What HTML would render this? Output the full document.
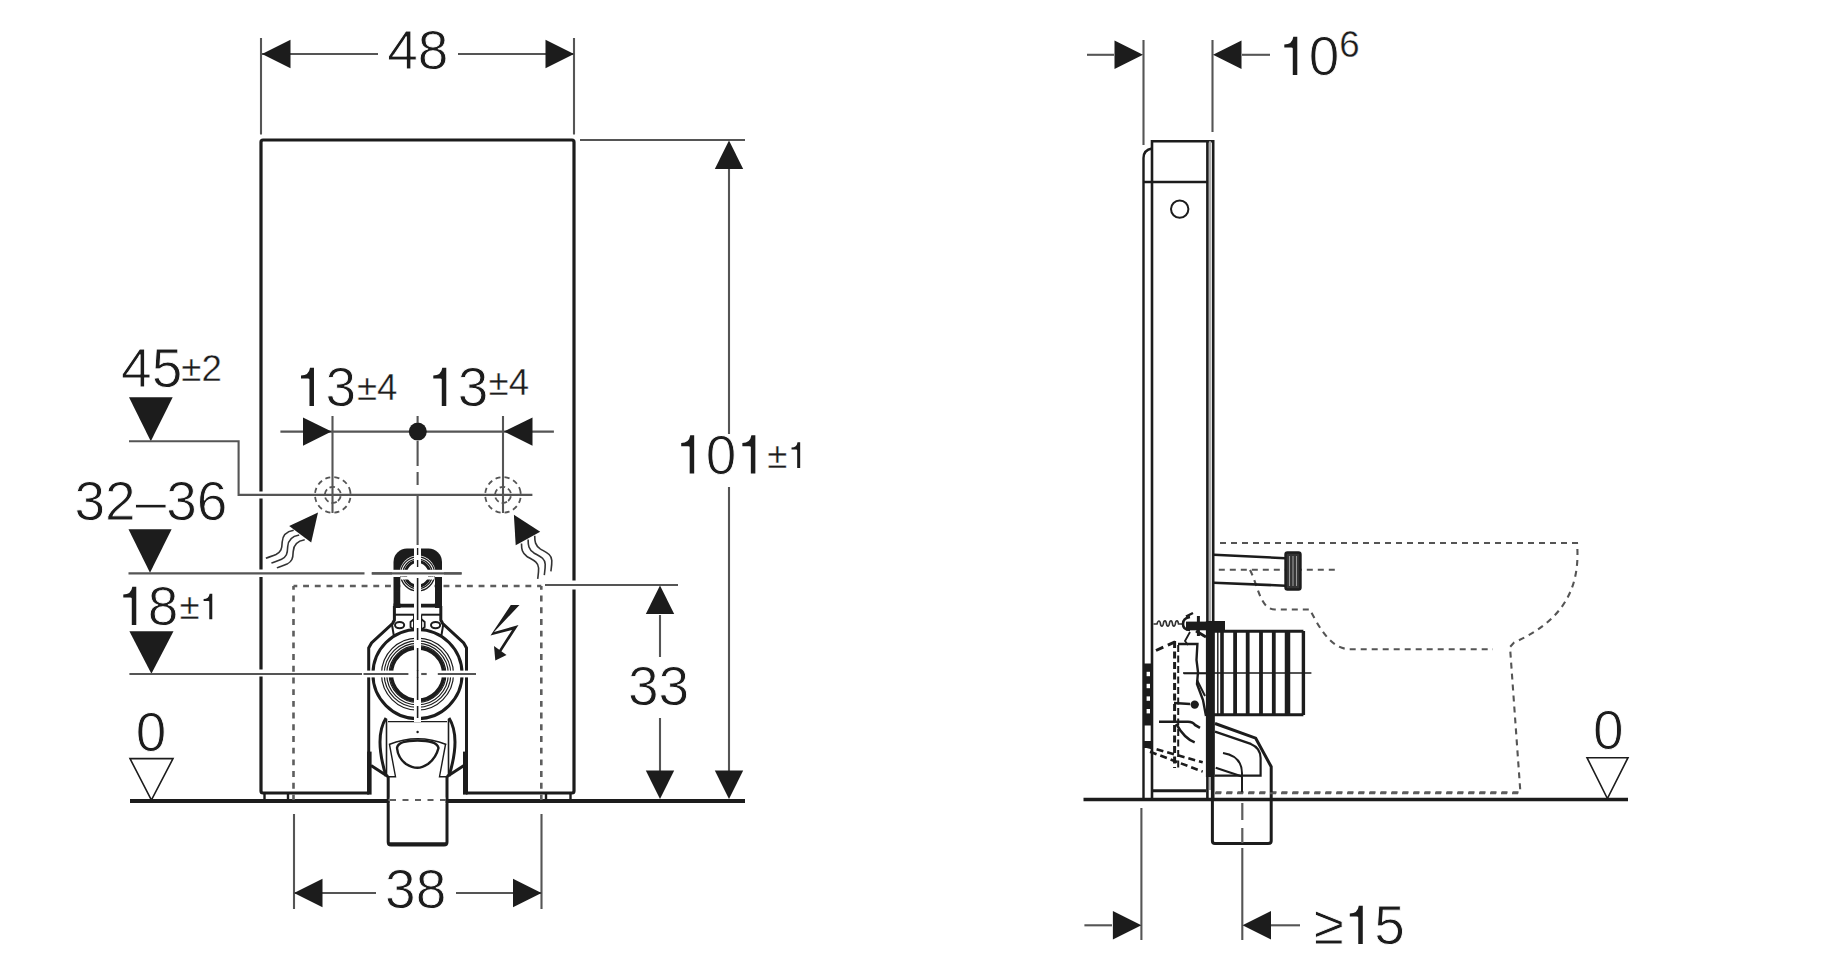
<!DOCTYPE html>
<html><head><meta charset="utf-8"><style>
html,body{margin:0;padding:0;background:#fff;}
svg{display:block;}
text{font-family:"Liberation Sans",sans-serif;fill:#1c1c1c;stroke:#fff;stroke-width:0.9px;}
</style></head><body>
<svg width="1828" height="980" viewBox="0 0 1828 980">
<rect width="1828" height="980" fill="#fff"/>
<line x1="261" y1="38" x2="261" y2="134.5" stroke="#555" stroke-width="2.1" />
<line x1="574" y1="38" x2="574" y2="134.5" stroke="#555" stroke-width="2.1" />
<line x1="262" y1="54" x2="378" y2="54" stroke="#555" stroke-width="2.1" />
<line x1="458" y1="54" x2="574" y2="54" stroke="#555" stroke-width="2.1" />
<path d="M262,54 L290.5,39.8 L290.5,68.2 Z" fill="#1c1c1c"/>
<path d="M574,54 L545.5,39.8 L545.5,68.2 Z" fill="#1c1c1c"/>
<text x="387.2" y="69" font-size="55" text-anchor="start" >48</text>
<path d="M369,793 L263,793 Q261,793 261,791 L261,142 Q261,140 263,140 L572,140 Q574,140 574,142 L574,791 Q574,793 572,793 L466,793" stroke="#1c1c1c" stroke-width="3.2" fill="none" />
<rect x="258" y="491.5" width="6" height="7.0" fill="#fff"/>
<rect x="258" y="569.5" width="6" height="7.5" fill="#fff"/>
<rect x="258" y="669.5" width="6" height="7.0" fill="#fff"/>
<rect x="571" y="580.5" width="6" height="9" fill="#fff"/>
<line x1="580" y1="140" x2="745" y2="140" stroke="#555" stroke-width="2.1" />
<line x1="729" y1="169" x2="729" y2="434" stroke="#555" stroke-width="2.1" />
<line x1="729" y1="487" x2="729" y2="772" stroke="#555" stroke-width="2.1" />
<path d="M729,140.5 L714.8,169.0 L743.2,169.0 Z" fill="#1c1c1c"/>
<path d="M729,799 L714.8,770.5 L743.2,770.5 Z" fill="#1c1c1c"/>
<path d="M694.19,435.27 L694.19,473.60 L689.68,473.60 L689.68,447.09 Q689.68,446.16 688.03,446.16 L681.21,446.16 L681.21,443.08 Q689.13,443.08 690.23,435.27 Z" fill="#1c1c1c"/>
<text x="705.68" y="473.6" font-size="55" text-anchor="start" >0</text>
<path d="M755.35,435.27 L755.35,473.60 L750.84,473.60 L750.84,447.09 Q750.84,446.16 749.19,446.16 L742.37,446.16 L742.37,443.08 Q750.29,443.08 751.39,435.27 Z" fill="#1c1c1c"/>
<text x="767.3" y="467.9" font-size="36.7" text-anchor="start" style="stroke-width:0.4px" >±</text>
<path d="M800.18,442.32 L800.18,467.90 L797.17,467.90 L797.17,450.21 Q797.17,449.59 796.07,449.59 L791.52,449.59 L791.52,447.53 Q796.81,447.53 797.54,442.32 Z" fill="#1c1c1c"/>
<line x1="130" y1="801" x2="745" y2="801" stroke="#1c1c1c" stroke-width="4.2" />
<line x1="545" y1="585" x2="678" y2="585" stroke="#555" stroke-width="2.1" />
<line x1="660" y1="615" x2="660" y2="657" stroke="#555" stroke-width="2.1" />
<line x1="660" y1="718" x2="660" y2="772" stroke="#555" stroke-width="2.1" />
<path d="M660,585.5 L645.8,614.0 L674.2,614.0 Z" fill="#1c1c1c"/>
<path d="M660,799 L645.8,770.5 L674.2,770.5 Z" fill="#1c1c1c"/>
<text x="628" y="705.4" font-size="55" text-anchor="start" >33</text>
<line x1="294" y1="814" x2="294" y2="909" stroke="#555" stroke-width="2.1" />
<line x1="541.5" y1="814" x2="541.5" y2="909" stroke="#555" stroke-width="2.1" />
<line x1="294" y1="893" x2="376" y2="893" stroke="#555" stroke-width="2.1" />
<line x1="456" y1="893" x2="541.5" y2="893" stroke="#555" stroke-width="2.1" />
<path d="M294,893 L322.5,878.8 L322.5,907.2 Z" fill="#1c1c1c"/>
<path d="M541.5,893 L513.0,878.8 L513.0,907.2 Z" fill="#1c1c1c"/>
<text x="385.1" y="908.2" font-size="55" text-anchor="start" >38</text>
<line x1="293.5" y1="586" x2="541.3" y2="586" stroke="#5e5e5e" stroke-width="2.6" stroke-dasharray="5.9,5.8" stroke-dashoffset="2.1"/>
<line x1="293.5" y1="586" x2="293.5" y2="800" stroke="#5e5e5e" stroke-width="2.6" stroke-dasharray="5.9,5.8" stroke-dashoffset="2.1"/>
<line x1="541.3" y1="586" x2="541.3" y2="800" stroke="#5e5e5e" stroke-width="2.6" stroke-dasharray="5.9,5.8" stroke-dashoffset="2.1"/>
<path d="M129,397.3 L172.7,397.3 L150.8,441.2 Z" fill="#1c1c1c"/>
<path d="M129,441.2 L238.6,441.2 L238.6,494.9 L532.4,494.9" stroke="#555" stroke-width="2.1" fill="none" />
<path d="M128.5,529.3 L171.6,529.3 L150,572.8 Z" fill="#1c1c1c"/>
<line x1="128.5" y1="573.4" x2="364.5" y2="573.4" stroke="#555" stroke-width="2.1" />
<line x1="371.8" y1="573.4" x2="461.6" y2="573.4" stroke="#555" stroke-width="2.1" />
<path d="M129.4,631.2 L173.5,631.2 L151.4,673.8 Z" fill="#1c1c1c"/>
<line x1="129.4" y1="674" x2="362" y2="674" stroke="#555" stroke-width="2.1" />
<path d="M130,758.6 L173,758.6 L151.4,800 Z" stroke="#1c1c1c" stroke-width="1.6" fill="none" />
<path d="M1587,757.7 L1628,757.7 L1607.4,798.5 Z" stroke="#1c1c1c" stroke-width="1.6" fill="none" />
<text x="135.7" y="750.7" font-size="55" text-anchor="start" >0</text>
<text x="121.1" y="387" font-size="55" text-anchor="start" >45</text>
<text x="181.3" y="381" font-size="36.7" text-anchor="start" style="stroke-width:0.4px" >±2</text>
<text x="74.4" y="519.5" font-size="55" text-anchor="start" >32–36</text>
<path d="M136.28,586.66 L136.28,625.00 L131.78,625.00 L131.78,598.49 Q131.78,597.55 130.12,597.55 L123.30,597.55 L123.30,594.47 Q131.22,594.47 132.33,586.66 Z" fill="#1c1c1c"/>
<text x="147.78" y="625" font-size="55" text-anchor="start" >8</text>
<text x="179.4" y="619.3" font-size="36.7" text-anchor="start" style="stroke-width:0.4px" >±</text>
<path d="M212.28,593.72 L212.28,619.30 L209.27,619.30 L209.27,601.61 Q209.27,600.99 208.17,600.99 L203.62,600.99 L203.62,598.93 Q208.91,598.93 209.64,593.72 Z" fill="#1c1c1c"/>
<line x1="280.4" y1="431.6" x2="553.9" y2="431.6" stroke="#555" stroke-width="2.1" />
<path d="M331.5,431.6 L303.0,417.40000000000003 L303.0,445.8 Z" fill="#1c1c1c"/>
<path d="M504,431.6 L532.5,417.40000000000003 L532.5,445.8 Z" fill="#1c1c1c"/>
<line x1="332.5" y1="416" x2="332.5" y2="513" stroke="#555" stroke-width="2.1" />
<line x1="503" y1="416" x2="503" y2="513" stroke="#555" stroke-width="2.1" />
<circle cx="417.8" cy="431.6" r="9" fill="#1c1c1c"/>
<path d="M313.98,367.67 L313.98,406.00 L309.47,406.00 L309.47,379.49 Q309.47,378.56 307.82,378.56 L301.00,378.56 L301.00,375.48 Q308.92,375.48 310.02,367.67 Z" fill="#1c1c1c"/>
<text x="325.48" y="406" font-size="55" text-anchor="start" >3</text>
<text x="356.9" y="400" font-size="36.7" text-anchor="start" style="stroke-width:0.4px" >±4</text>
<path d="M446.28,367.67 L446.28,406.00 L441.77,406.00 L441.77,379.49 Q441.77,378.56 440.12,378.56 L433.30,378.56 L433.30,375.48 Q441.22,375.48 442.32,367.67 Z" fill="#1c1c1c"/>
<text x="457.78" y="406" font-size="55" text-anchor="start" >3</text>
<text x="488.5" y="394.9" font-size="36.7" text-anchor="start" style="stroke-width:0.4px" >±4</text>
<line x1="417.6" y1="416" x2="417.6" y2="423" stroke="#555" stroke-width="2.1" />
<line x1="417.6" y1="441" x2="417.6" y2="466" stroke="#555" stroke-width="2.1" />
<line x1="417.6" y1="472" x2="417.6" y2="485" stroke="#555" stroke-width="2.1" />
<line x1="417.6" y1="495" x2="417.6" y2="545" stroke="#555" stroke-width="2.1" />
<circle cx="332.8" cy="494.9" r="17.8" fill="none" stroke="#555" stroke-width="1.8" stroke-dasharray="5.2,3.9" transform="rotate(-20 332.8 494.9)"/>
<circle cx="332.8" cy="494.9" r="8" fill="none" stroke="#555" stroke-width="1.8" stroke-dasharray="5.5,3.1" transform="rotate(60 332.8 494.9)"/>
<circle cx="503" cy="494.9" r="17.8" fill="none" stroke="#555" stroke-width="1.8" stroke-dasharray="5.2,3.9" transform="rotate(-20 503 494.9)"/>
<circle cx="503" cy="494.9" r="8" fill="none" stroke="#555" stroke-width="1.8" stroke-dasharray="5.5,3.1" transform="rotate(60 503 494.9)"/>
<path d="M318,512.4 L289.2,525.9 L311.2,542.4 Z" fill="#1c1c1c"/>
<path d="M293.7,530.2 C286.0,531.5 282.5,535.0 282.2,542.0 C282.0,549.0 281.0,552.0 276.0,554.5 C272.0,556.3 268.5,557.0 265.9,558.3" stroke="#333" stroke-width="1.6" fill="none" />
<path d="M299.2,535.0 C291.5,536.3 288.0,539.8 287.7,546.8 C287.5,553.8 286.5,556.8 281.5,559.3 C277.5,561.0999999999999 274.0,561.8 271.4,563.0999999999999" stroke="#333" stroke-width="1.6" fill="none" />
<path d="M304.7,539.8000000000001 C297.0,541.1 293.5,544.6 293.2,551.6 C293.0,558.6 292.0,561.6 287.0,564.1 C283.0,565.9 279.5,566.6 276.9,567.9" stroke="#333" stroke-width="1.6" fill="none" />
<path d="M513.9,514.7 L540.2,531.8 L515.7,545.3 Z" fill="#1c1c1c"/>
<path d="M521.5,543.4 C521.5,549.0 522.0,553.0 527.0,556.5 C533.0,560.0 538.5,562.0 538.6,568.0 C538.7,573.0 538.0,576.0 537.7,578.9" stroke="#333" stroke-width="1.6" fill="none" />
<path d="M528.1,539.6 C528.1,545.2 528.6,549.2 533.6,552.7 C539.6,556.2 545.1,558.2 545.2,564.2 C545.3000000000001,569.2 544.6,572.2 544.3000000000001,575.1" stroke="#333" stroke-width="1.6" fill="none" />
<path d="M534.7,535.8 C534.7,541.4 535.2,545.4 540.2,548.9 C546.2,552.4 551.7,554.4 551.8000000000001,560.4 C551.9000000000001,565.4 551.2,568.4 550.9000000000001,571.3" stroke="#333" stroke-width="1.6" fill="none" />
<path d="M510.8,605 L519.5,605 L494,632 L518.5,625 L501,652 L498.5,651 L512,630 L490.5,635.5 Z" fill="#1c1c1c"/>
<path d="M495.3,660.5 L494,646 L506.5,655 Z" fill="#1c1c1c"/>
<g id="fit">
<path d="M393.5,571 L393.5,562 A13.5,13.5 0 0 1 407,548.5 L428.5,548.5 A13.5,13.5 0 0 1 442,562 L442,571 Z" stroke="#1c1c1c" stroke-width="0" fill="#1c1c1c" />
<circle cx="417.6" cy="573.5" r="18" fill="#fff"/>
<rect x="392" y="570" width="52" height="3" fill="#fff"/>
<circle cx="417.6" cy="573.9" r="17" fill="none" stroke="#1c1c1c" stroke-width="1.3"/>
<circle cx="417.6" cy="573.9" r="14.8" fill="none" stroke="#1c1c1c" stroke-width="1.3"/>
<circle cx="417.6" cy="573.9" r="12.3" fill="none" stroke="#1c1c1c" stroke-width="3"/>
<rect x="393.5" y="577" width="7" height="31" fill="#1c1c1c"/>
<rect x="435" y="577" width="7" height="31" fill="#1c1c1c"/>
<rect x="393.5" y="603.5" width="48.5" height="4" fill="#1c1c1c"/>
<rect x="400.5" y="577" width="34" height="26.5" fill="#fff"/>
<path d="M400.6,573.9 A17,17 0 0 0 434.6,573.9" fill="none" stroke="#1c1c1c" stroke-width="1.3"/>
<path d="M402.8,573.9 A14.8,14.8 0 0 0 432.40000000000003,573.9" fill="none" stroke="#1c1c1c" stroke-width="1.3"/>
<path d="M405.3,573.9 A12.3,12.3 0 0 0 429.90000000000003,573.9" fill="none" stroke="#1c1c1c" stroke-width="3"/>
<rect x="400.5" y="577" width="34" height="2.5" fill="#fff"/>
<rect x="393" y="591.9" width="50" height="0.01" fill="#fff"/>
<path d="M394.4,606 L394.4,620 L392.5,623.5 L371.5,643 L368.7,648 L368.7,794" stroke="#1c1c1c" stroke-width="3" fill="none" />
<path d="M395,614.7 L414,614.7" stroke="#1c1c1c" stroke-width="2" fill="none" />
<path d="M414,615 L414,631.2 L393.8,635.5 L391.8,623.5" stroke="#1c1c1c" stroke-width="2" fill="none" />
<path d="M414,619 L410.5,622 L410.5,627 L414,630" stroke="#1c1c1c" stroke-width="1.8" fill="none" />
<path d="M440.8,606 L440.8,620 L442.7,623.5 L463.7,643 L466.5,648 L466.5,794" stroke="#1c1c1c" stroke-width="3" fill="none" />
<path d="M440.2,614.7 L421.2,614.7" stroke="#1c1c1c" stroke-width="2" fill="none" />
<path d="M421.2,615 L421.2,631.2 L441.4,635.5 L443.4,623.5" stroke="#1c1c1c" stroke-width="2" fill="none" />
<path d="M421.2,619 L424.7,622 L424.7,627 L421.2,630" stroke="#1c1c1c" stroke-width="1.8" fill="none" />
<ellipse cx="399.6" cy="625.1" rx="4.6" ry="3.2" fill="none" stroke="#1c1c1c" stroke-width="2"/>
<ellipse cx="435.6" cy="625.1" rx="4.6" ry="3.2" fill="none" stroke="#1c1c1c" stroke-width="2"/>
<circle cx="417.5" cy="674.1" r="44.6" fill="#fff" stroke="#1c1c1c" stroke-width="3"/>
<circle cx="417.5" cy="674.1" r="36" fill="none" stroke="#1c1c1c" stroke-width="1.2"/>
<circle cx="417.5" cy="674.1" r="33.3" fill="none" stroke="#1c1c1c" stroke-width="1.2"/>
<circle cx="417.5" cy="674.1" r="30.8" fill="none" stroke="#1c1c1c" stroke-width="1.2"/>
<circle cx="417.5" cy="674.1" r="28.4" fill="none" stroke="#1c1c1c" stroke-width="1.2"/>
<circle cx="417.5" cy="674.1" r="26.2" fill="#fff" stroke="#1c1c1c" stroke-width="3.6"/>
<rect x="367.1" y="751.6" width="4.5" height="43" fill="#1c1c1c"/>
<rect x="463" y="751.6" width="4.5" height="43" fill="#1c1c1c"/>
<path d="M371,765.5 L388,776.5" stroke="#1c1c1c" stroke-width="3" fill="none" />
<path d="M464,765.5 L447,776.5" stroke="#1c1c1c" stroke-width="3" fill="none" />
<line x1="386.5" y1="719" x2="386.5" y2="776" stroke="#1c1c1c" stroke-width="1.6" />
<line x1="448.5" y1="719" x2="448.5" y2="776" stroke="#1c1c1c" stroke-width="1.6" />
<path d="M386,718 Q374,737 386,776" stroke="#1c1c1c" stroke-width="3" fill="none" />
<path d="M449,718 Q461,737 449,776" stroke="#1c1c1c" stroke-width="3" fill="none" />
<line x1="388" y1="721.6" x2="447" y2="721.6" stroke="#1c1c1c" stroke-width="1.4" />
<path d="M397,748 Q398,740.5 417.5,740.5 Q437,740.5 438.5,748 Q436,758 428,764 Q422,767.8 417.5,767.8 Q412,767.8 406,764 Q398,758 397,748 Z" stroke="#1c1c1c" stroke-width="2.4" fill="none" />
<path d="M389,744.5 Q417.5,733 446.3,744.5" stroke="#1c1c1c" stroke-width="1.4" fill="none" />
<path d="M389.4,744 L395.5,776.7 L388,776.7" stroke="#1c1c1c" stroke-width="1.4" fill="none" />
<path d="M445.6,744 L439.5,776.7 L447,776.7" stroke="#1c1c1c" stroke-width="1.4" fill="none" />
<path d="M388.2,776 L388.2,842 Q388.2,845 391,845 L444,845 Q447,845 447,842 L447,776" stroke="#1c1c1c" stroke-width="3" fill="none" />
<line x1="389" y1="844" x2="446" y2="844" stroke="#1c1c1c" stroke-width="3.5" />
<rect x="414" y="548" width="7" height="174" fill="#fff"/>
<line x1="417.6" y1="548" x2="417.6" y2="555" stroke="#1c1c1c" stroke-width="1.4" />
<line x1="417.6" y1="560" x2="417.6" y2="567" stroke="#1c1c1c" stroke-width="1.4" />
<line x1="417.6" y1="578" x2="417.6" y2="620" stroke="#1c1c1c" stroke-width="1.6" />
<line x1="417.6" y1="628" x2="417.6" y2="640" stroke="#1c1c1c" stroke-width="1.6" />
<line x1="417.6" y1="648" x2="417.6" y2="700" stroke="#1c1c1c" stroke-width="1.6" />
<line x1="417.6" y1="706" x2="417.6" y2="718" stroke="#1c1c1c" stroke-width="1.6" />
<circle cx="417.6" cy="732" r="1.2" fill="#1c1c1c"/>
</g>
<rect x="362" y="670.6" width="114" height="6.8" fill="#fff"/>
<line x1="363.5" y1="674" x2="408.4" y2="674" stroke="#555" stroke-width="2.1" />
<line x1="421.2" y1="674" x2="426.7" y2="674" stroke="#555" stroke-width="2.1" />
<line x1="437.8" y1="674" x2="476" y2="674" stroke="#555" stroke-width="2.1" />
<line x1="417.6" y1="670" x2="417.6" y2="678" stroke="#1c1c1c" stroke-width="1.6" />
<rect x="392" y="569.8" width="52" height="6.7" fill="#fff"/>
<line x1="371.8" y1="573.4" x2="461.6" y2="573.4" stroke="#555" stroke-width="2.1" />
<line x1="264" y1="801" x2="294" y2="801" stroke="#1c1c1c" stroke-width="0" />
<path d="M264.5,793 L264.5,801" stroke="#1c1c1c" stroke-width="2.4" fill="none" />
<path d="M288,793 L288,801" stroke="#1c1c1c" stroke-width="2.4" fill="none" />
<path d="M546,793 L546,801" stroke="#1c1c1c" stroke-width="2.4" fill="none" />
<path d="M570.5,793 L570.5,801" stroke="#1c1c1c" stroke-width="2.4" fill="none" />
<line x1="388.2" y1="800" x2="447" y2="800" stroke="#5e5e5e" stroke-width="2" stroke-dasharray="6,6" stroke-dashoffset="0"/>
<rect x="389.8" y="797.5" width="55.6" height="6" fill="#fff"/>
<line x1="390" y1="800" x2="447" y2="800" stroke="#5e5e5e" stroke-width="2" stroke-dasharray="6,6.5" stroke-dashoffset="0"/>
<line x1="1143.5" y1="40" x2="1143.5" y2="145" stroke="#555" stroke-width="2.1" />
<line x1="1212.5" y1="40" x2="1212.5" y2="132" stroke="#555" stroke-width="2.1" />
<line x1="1087" y1="54.8" x2="1114" y2="54.8" stroke="#555" stroke-width="2.1" />
<path d="M1143,54.8 L1114.5,40.599999999999994 L1114.5,69.0 Z" fill="#1c1c1c"/>
<line x1="1242" y1="54.8" x2="1270" y2="54.8" stroke="#555" stroke-width="2.1" />
<path d="M1213,54.8 L1241.5,40.599999999999994 L1241.5,69.0 Z" fill="#1c1c1c"/>
<path d="M1297.29,36.66 L1297.29,75.00 L1292.78,75.00 L1292.78,48.49 Q1292.78,47.55 1291.12,47.55 L1284.31,47.55 L1284.31,44.48 Q1292.23,44.48 1293.33,36.66 Z" fill="#1c1c1c"/>
<text x="1308.78" y="75" font-size="55" text-anchor="start" >0</text>
<text x="1339.2" y="56.8" font-size="36.7" text-anchor="start" style="stroke-width:0.4px" >6</text>
<path d="M1152,800 L1152,141.2 L1213.2,141.2 L1213.2,800" stroke="#1c1c1c" stroke-width="2.6" fill="none" />
<line x1="1210" y1="141.2" x2="1210" y2="790" stroke="#b0b0b0" stroke-width="2.2" />
<line x1="1207.4" y1="141.2" x2="1207.4" y2="800" stroke="#1c1c1c" stroke-width="2.6" />
<path d="M1143.5,800 L1143.5,158 Q1143.5,150 1152,148.5" stroke="#1c1c1c" stroke-width="2.4" fill="none" />
<line x1="1143.5" y1="182" x2="1207.6" y2="182" stroke="#1c1c1c" stroke-width="2.6" />
<circle cx="1179.7" cy="209.1" r="8.7" fill="none" stroke="#1c1c1c" stroke-width="2"/>
<line x1="1083.5" y1="799.5" x2="1628" y2="799.5" stroke="#1c1c1c" stroke-width="3.6" />
<text x="1593.1" y="749" font-size="55" text-anchor="start" >0</text>
<line x1="1141.4" y1="808" x2="1141.4" y2="940" stroke="#555" stroke-width="2.1" />
<line x1="1242.3" y1="848" x2="1242.3" y2="940" stroke="#555" stroke-width="2.1" />
<line x1="1084.4" y1="925.3" x2="1112" y2="925.3" stroke="#555" stroke-width="2.1" />
<path d="M1141.4,925.3 L1112.9,911.0999999999999 L1112.9,939.5 Z" fill="#1c1c1c"/>
<line x1="1271" y1="925.3" x2="1300" y2="925.3" stroke="#555" stroke-width="2.1" />
<path d="M1242.5,925.3 L1271.0,911.0999999999999 L1271.0,939.5 Z" fill="#1c1c1c"/>
<text x="1313.5" y="944" font-size="55" text-anchor="start" >≥</text>
<path d="M1362.78,905.66 L1362.78,944.00 L1358.27,944.00 L1358.27,917.49 Q1358.27,916.55 1356.62,916.55 L1349.80,916.55 L1349.80,913.47 Q1357.72,913.47 1358.82,905.66 Z" fill="#1c1c1c"/>
<text x="1374.27" y="944" font-size="55" text-anchor="start" >5</text>
<path d="M1220,543 L1577,543 C1580,580 1570,618 1514,642.5 L1510,647 L1520.4,792.4 L1215,792.4" stroke="#555" stroke-width="2.1" fill="none" stroke-dasharray="6,5"/>
<path d="M1218.8,569.8 L1336.8,569.8" stroke="#555" stroke-width="2.1" fill="none" stroke-dasharray="6,5"/>
<path d="M1250,570 C1258,585 1260,609.5 1275,609.5 L1309.8,609.5 C1318,625 1330,649.2 1350,649.2 L1493,649.2" stroke="#555" stroke-width="2.1" fill="none" stroke-dasharray="6,5"/>
<path d="M1213.9,554.7 L1285.3,558.2" stroke="#1c1c1c" stroke-width="2.6" fill="none" />
<path d="M1213.9,582.7 L1285.3,585.7" stroke="#1c1c1c" stroke-width="2.6" fill="none" />
<rect x="1285.5" y="552.5" width="15" height="37" rx="2" fill="#333" stroke="#1c1c1c" stroke-width="2.4"/>
<line x1="1289.5" y1="556" x2="1289.5" y2="586" stroke="#9a9a9a" stroke-width="1.1" />
<line x1="1293" y1="556" x2="1293" y2="586" stroke="#9a9a9a" stroke-width="1.1" />
<line x1="1296.5" y1="556" x2="1296.5" y2="586" stroke="#9a9a9a" stroke-width="1.1" />
<rect x="1205.9" y="621" width="8.8" height="156" fill="#1c1c1c"/>
<rect x="1206" y="621" width="19" height="10" fill="#1c1c1c"/>
<line x1="1214" y1="631.2" x2="1303.4" y2="631.2" stroke="#1c1c1c" stroke-width="3" />
<line x1="1214" y1="714.8" x2="1303.4" y2="714.8" stroke="#1c1c1c" stroke-width="3" />
<line x1="1217.8" y1="631" x2="1217.8" y2="715" stroke="#1c1c1c" stroke-width="1.4" />
<line x1="1222" y1="631" x2="1222" y2="715" stroke="#1c1c1c" stroke-width="3.6" />
<line x1="1235.1" y1="631" x2="1235.1" y2="715" stroke="#1c1c1c" stroke-width="3.8" />
<line x1="1247.7" y1="631" x2="1247.7" y2="715" stroke="#1c1c1c" stroke-width="3.8" />
<line x1="1261" y1="631" x2="1261" y2="715" stroke="#1c1c1c" stroke-width="3.8" />
<line x1="1273.8" y1="631" x2="1273.8" y2="715" stroke="#1c1c1c" stroke-width="3.8" />
<line x1="1287.5" y1="631" x2="1287.5" y2="715" stroke="#1c1c1c" stroke-width="5.5" />
<line x1="1303.4" y1="631" x2="1303.4" y2="715" stroke="#1c1c1c" stroke-width="3.4" />
<line x1="1183" y1="673" x2="1311.4" y2="673" stroke="#1c1c1c" stroke-width="1.4" />
<path d="M1215,723.5 L1255.7,738.2 L1271.2,766.7 L1271.2,841 Q1271.2,843.5 1268,843.5 L1215,843.5 Q1212.4,843.5 1212.4,841 L1212.4,776" stroke="#1c1c1c" stroke-width="3" fill="none" />
<path d="M1215,731.6 L1250.8,743.9 Q1260.6,748 1260.6,758 L1260.6,775.7 L1215,775.7" stroke="#1c1c1c" stroke-width="2.2" fill="none" />
<path d="M1223,752.9 Q1242,756 1242,773.3 L1242,792.9" stroke="#1c1c1c" stroke-width="2" fill="none" />
<line x1="1215.7" y1="767.7" x2="1241.3" y2="776.3" stroke="#1c1c1c" stroke-width="2.2" />
<line x1="1215" y1="793.2" x2="1520" y2="793.2" stroke="#5e5e5e" stroke-width="2.0" stroke-dasharray="6,5" stroke-dashoffset="0"/>
<line x1="1242.3" y1="803" x2="1242.3" y2="843" stroke="#5e5e5e" stroke-width="2.2" stroke-dasharray="17,8" stroke-dashoffset="0"/>
<rect x="1143.6" y="663.5" width="9" height="62" fill="#1c1c1c"/>
<rect x="1146.6" y="671.8" width="3.4" height="4.4" fill="#fff"/>
<rect x="1146.6" y="683.8" width="3.4" height="4.4" fill="#fff"/>
<rect x="1146.6" y="696.4" width="3.4" height="4.4" fill="#fff"/>
<rect x="1146.6" y="709.0" width="3.4" height="4.4" fill="#fff"/>
<rect x="1143.6" y="741" width="9" height="7" fill="#1c1c1c"/>
<line x1="1153" y1="790.8" x2="1206" y2="790.8" stroke="#1c1c1c" stroke-width="3" />
<path d="M1153.5,624 L1157,624 C1158,620 1160,620 1160.5,624 C1161,627 1163,627 1163.5,623 C1164,620 1166,620 1166.5,624 C1167,627 1169,627 1169.5,623 C1170,620 1172,620 1172.5,624 C1173,627 1175,627 1175.5,623 C1176,620 1178,620 1178.5,624 L1182,624" stroke="#333" stroke-width="1.6" fill="none" />
<path d="M1190,617 Q1183,618 1183,624 Q1183,630 1190,630" stroke="#1c1c1c" stroke-width="2.6" fill="none" />
<line x1="1186" y1="616.5" x2="1193" y2="613" stroke="#1c1c1c" stroke-width="2.4" />
<line x1="1198.4" y1="616" x2="1198.4" y2="636" stroke="#1c1c1c" stroke-width="3" />
<path d="M1196,631 L1206,637" stroke="#1c1c1c" stroke-width="3" fill="none" />
<rect x="1186" y="621.6" width="39" height="8.7" fill="#1c1c1c"/>
<path d="M1190,632 L1185,641 L1188,645" stroke="#1c1c1c" stroke-width="1.8" fill="none" />
<path d="M1156,650.5 L1178,640.5" stroke="#1c1c1c" stroke-width="3" fill="none" stroke-dasharray="8,5"/>
<path d="M1174.6,641 L1174.6,768" stroke="#1c1c1c" stroke-width="3" fill="none" stroke-dasharray="7,3.5"/>
<path d="M1178.2,645 L1178.2,768" stroke="#1c1c1c" stroke-width="2" fill="none" stroke-dasharray="7,3.5"/>
<path d="M1178,644 L1197.4,644 L1196.5,660 L1198,672 L1197,684 L1203,700 L1206,716" stroke="#1c1c1c" stroke-width="2.4" fill="none" />
<line x1="1183.7" y1="673.5" x2="1206" y2="673.5" stroke="#1c1c1c" stroke-width="1.6" />
<path d="M1174,703 L1190,704" stroke="#1c1c1c" stroke-width="2.4" fill="none" />
<circle cx="1194.7" cy="704.6" r="4.2" fill="#1c1c1c"/>
<path d="M1159,721.8 L1188,721.8 Q1193,722 1195,725 L1200,727.8" stroke="#1c1c1c" stroke-width="2.6" fill="none" />
<path d="M1176.2,723.8 Q1184,738 1194.7,742.4" stroke="#1c1c1c" stroke-width="2.6" fill="none" />
<path d="M1146,746.4 L1202.7,762.3" stroke="#1c1c1c" stroke-width="2.6" fill="none" stroke-dasharray="7,4"/>
<path d="M1150,751.7 L1202.7,771.6" stroke="#1c1c1c" stroke-width="2.6" fill="none" stroke-dasharray="7,4"/>
<path d="M1197,680 L1205,696" stroke="#1c1c1c" stroke-width="2" fill="none" />
</svg></body></html>
